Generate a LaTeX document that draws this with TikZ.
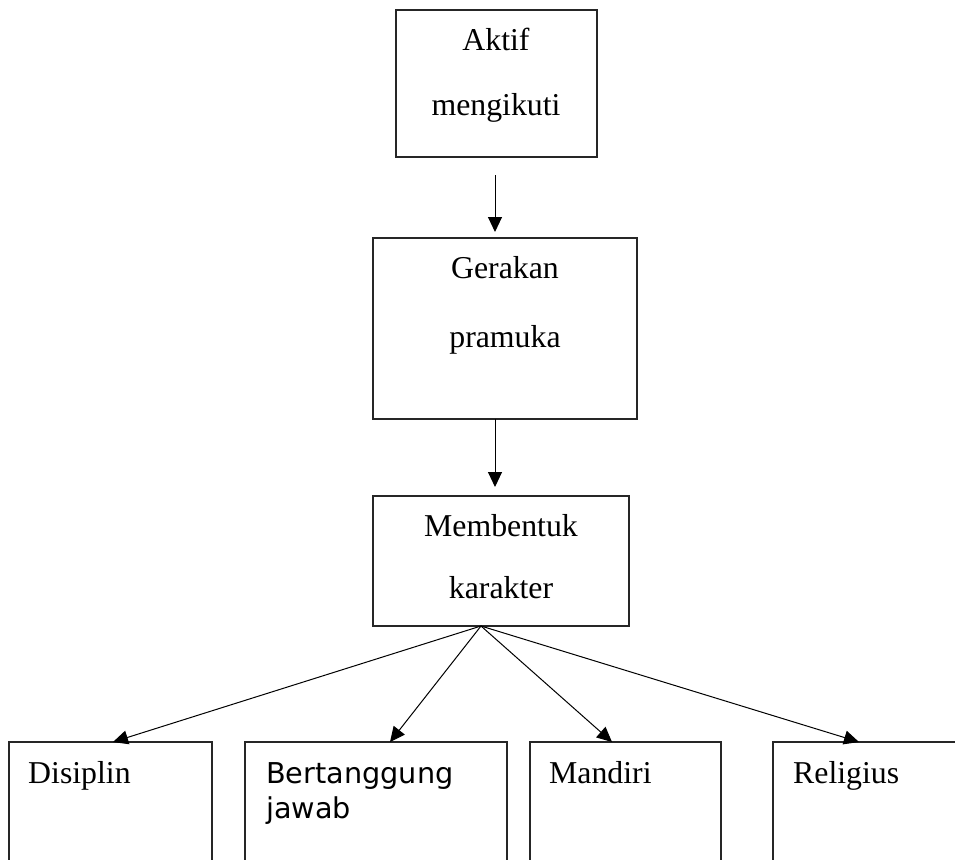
\documentclass[tikz,border=0pt]{standalone}
\usepackage{fontspec}
\setmainfont{Liberation Serif}
\newfontfamily\dejavu{DejaVu Sans}
\usetikzlibrary{arrows.meta,calc}
\begin{document}
\begin{tikzpicture}[x=1pt,y=-1pt,
  box/.style={draw=black!85, line width=1.1pt, rectangle, anchor=north west, inner sep=0pt, outer sep=0pt},
  txt/.style={inner sep=0pt, font=\fontsize{31.8}{38}\selectfont},
  stxt/.style={inner sep=0pt, font=\dejavu\fontsize{28.7}{35}\selectfont},
  arr/.style={line width=1pt, -{Triangle[length=15pt,width=14pt]}}]
\useasboundingbox (0,0) rectangle (955,859);
\clip (0,0) rectangle (955,859);
% boxes
\node[box, minimum width=201pt, minimum height=147pt] (a) at (396,10) {};
\node[box, minimum width=264pt, minimum height=181pt] (b) at (373,238) {};
\node[box, minimum width=256pt, minimum height=130pt] (c) at (373,496) {};
\node[box, minimum width=203pt, minimum height=133pt] (d1) at (9,742) {};
\node[box, minimum width=262pt, minimum height=133pt] (d2) at (245,742) {};
\node[box, minimum width=191pt, minimum height=133pt] (d3) at (530,742) {};
\node[box, minimum width=210pt, minimum height=133pt] (d4) at (773,742) {};
% texts
\node[txt, anchor=base] (ta1) at (496,51) {Aktif};
\node[txt, anchor=base] (ta2) at (496,115) {mengikuti};
\node[txt, anchor=base] (tb1) at (505,278) {Gerakan};
\node[txt, anchor=base] (tb2) at (505,347) {pramuka};
\node[txt, anchor=base] (tc1) at (501,536) {Membentuk};
\node[txt, anchor=base] (tc2) at (501,598) {karakter};
\node[txt, anchor=base west] (td1) at (28,783) {Disiplin};
\node[stxt, anchor=base west] (td2a) at (266,783) {Bertanggung};
\node[stxt, anchor=base west] (td2b) at (266,818) {jawab};
\node[txt, anchor=base west] (td3) at (549,783) {Mandiri};
\node[txt, anchor=base west] (td4) at (793,783) {Religius};
% connectors
\draw[arr, shorten <=18pt, shorten >=6pt] (a.south -| 495,0) -- (b.north -| 495,0);
\draw[arr, shorten >=9pt] (b.south -| 495,0) -- (c.north -| 495,0);
\coordinate (apex) at ($(c.south west)+(108,0)$);
\draw[arr] (apex) -- ($(d1.north west)+(104,0)$);
\draw[arr] (apex) -- ($(d2.north west)+(145,0)$);
\draw[arr] (apex) -- ($(d3.north west)+(82,0)$);
\draw[arr] (apex) -- ($(d4.north west)+(86,0)$);
\end{tikzpicture}
\end{document}
